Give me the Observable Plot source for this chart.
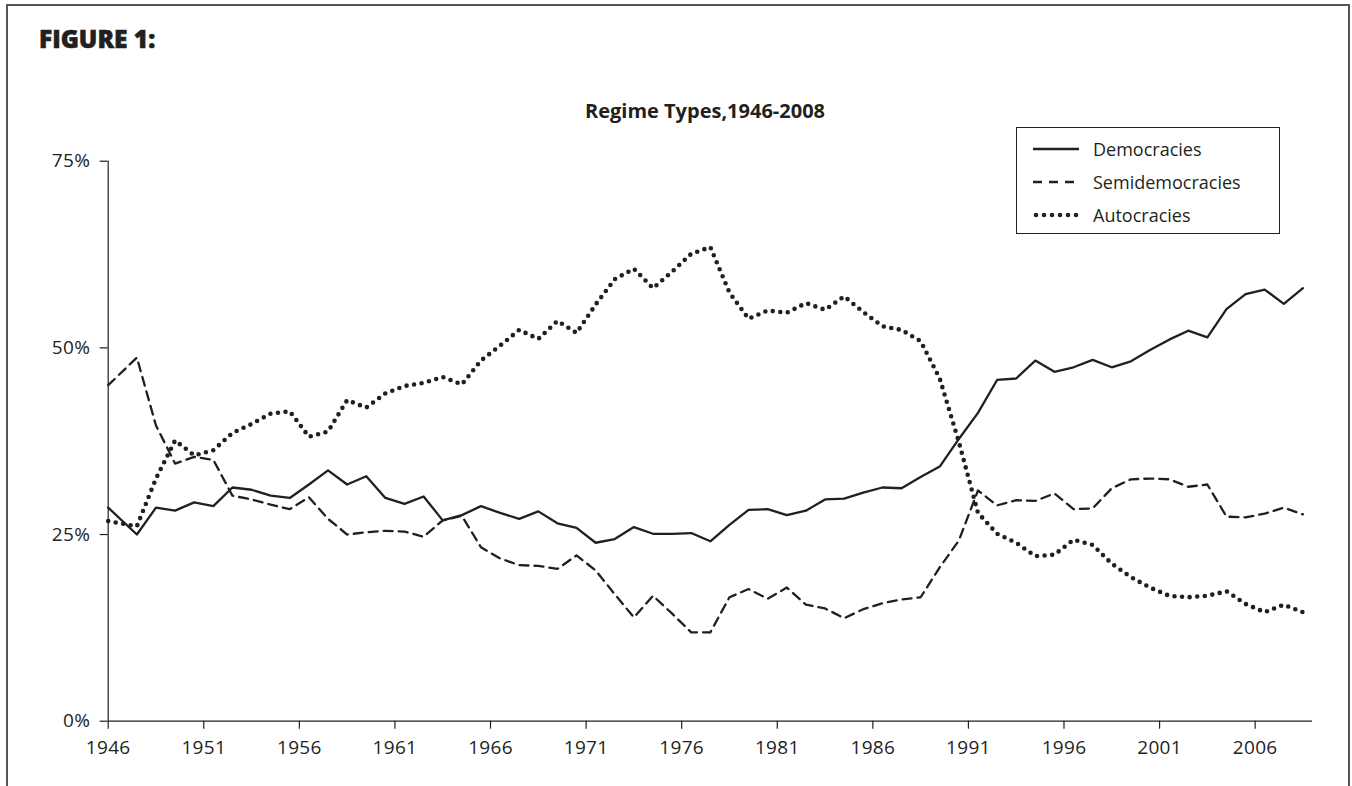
<!DOCTYPE html>
<html><head><meta charset="utf-8">
<script src="https://cdn.jsdelivr.net/npm/d3@7"></script>
<script src="https://cdn.jsdelivr.net/npm/@observablehq/plot@0.6"></script>
<style>
html,body{margin:0;padding:0;background:#fff;}
#page{position:relative;width:1352px;height:786px;overflow:hidden;font-family:"Open Sans",sans-serif;color:#231f20;}
#frame{position:absolute;left:6px;top:4px;width:1344px;height:900px;border:2px solid #555;border-bottom:none;box-sizing:border-box;}
#fig{position:absolute;left:39px;top:22px;font-size:24.5px;font-weight:900;letter-spacing:0px;white-space:nowrap;-webkit-text-stroke:0.6px #231f20;}
#title{position:absolute;left:455px;width:500px;text-align:center;top:97px;font-weight:bold;font-size:20px;}
#chart{position:absolute;left:0;top:0;}
#legend{position:absolute;left:1016px;top:127px;width:264px;height:107px;border:1px solid #231f20;box-sizing:border-box;background:#fff;}
.lrow{position:absolute;left:0;height:26px;width:262px;}
.lrow svg{position:absolute;left:16px;top:1px;}
.lrow span{position:absolute;left:76px;top:0;line-height:26px;font-size:18px;white-space:nowrap;}
#chart svg text{letter-spacing:0.3px;}
</style>
</head>
<body>
<div id="page">
  <div id="frame"></div>
  <div id="fig">FIGURE 1:</div>
  <div id="title">Regime Types,1946-2008</div>
  <div id="chart"></div>
  <div id="legend"></div>
</div>
<script>
// ---- data (percent of countries) ----
const years = [1946,1947,1948,1949,1950,1951,1952,1953,1954,1955,1956,1957,1958,1959,1960,
  1961,1962,1963,1964,1965,1966,1967,1968,1969,1970,1971,1972,1973,1974,1975,1976,1977,1978,
  1979,1980,1981,1982,1983,1984,1985,1986,1987,1988,1989,1990,1991,1992,1993,1994,1995,1996,
  1997,1998,1999,2000,2001,2002,2003,2004,2005,2006,2007,2008];
const democracies = [28.6,25.0,28.6,28.2,29.3,28.8,31.3,31.0,30.2,29.9,31.7,33.6,31.7,32.8,29.9,
  29.1,30.1,26.9,27.6,28.8,27.9,27.1,28.1,26.5,25.9,23.9,24.4,26.0,25.1,25.1,25.2,24.1,26.3,
  28.3,28.4,27.6,28.2,29.7,29.8,30.6,31.3,31.2,32.7,34.1,37.8,41.3,45.7,45.9,48.3,46.8,47.4,
  48.4,47.4,48.2,49.7,51.1,52.3,51.4,55.2,57.2,57.8,55.9,58.0];
const semidemocracies = [45.0,48.7,39.6,34.5,35.4,35.0,30.2,29.7,29.0,28.4,30.0,27.1,25.0,25.3,25.5,
  25.4,24.7,26.9,27.5,23.3,21.8,20.9,20.8,20.4,22.2,20.2,17.0,13.9,16.8,14.4,11.9,11.9,16.6,
  17.7,16.4,17.9,15.6,15.1,13.8,15.0,15.8,16.3,16.6,20.6,24.2,30.9,28.9,29.6,29.5,30.5,28.4,
  28.5,31.2,32.4,32.5,32.4,31.4,31.7,27.4,27.3,27.8,28.6,27.7];
const autocracies = [26.8,26.1,32.5,37.6,35.6,36.3,38.6,39.8,41.2,41.5,38.1,38.8,43.0,42.0,43.9,
  44.9,45.3,46.1,45.1,48.3,50.3,52.4,51.2,53.6,52.0,55.8,59.2,60.6,58.0,60.2,62.6,63.5,57.4,
  53.9,55.0,54.7,56.0,55.1,56.9,54.8,52.9,52.4,50.9,45.9,37.4,27.9,25.1,23.9,22.1,22.3,24.3,
  23.6,21.1,19.3,17.9,16.8,16.6,16.8,17.4,15.7,14.6,15.6,14.6];
const seriesNames = ["Democracies","Semidemocracies","Autocracies"];
const tickYears = [1946,1951,1956,1961,1966,1971,1976,1981,1986,1991,1996,2001,2006];
const yTicks = [0,25,50,75];

const ink = "#231f20";
const styles = {
  Democracies: {strokeWidth: 2.3},
  Semidemocracies: {strokeWidth: 2.3, strokeDasharray: "9,6"},
  Autocracies: {strokeWidth: 4.6, strokeDasharray: "0,7.6", strokeLinecap: "round"}
};

// yearly values sit mid-year; the first one starts on the axis as in the source
const rowsOf = vals => years.map((yr, i) => ({year: yr, pos: i === 0 ? yr : yr + 0.5, value: vals[i]}));
const data = {Democracies: rowsOf(democracies), Semidemocracies: rowsOf(semidemocracies), Autocracies: rowsOf(autocracies)};

const plot = Plot.plot({
  width: 1352, height: 786,
  marginLeft: 107.7, marginRight: 40, marginTop: 160.7, marginBottom: 65.3,
  style: {fontFamily: "'Open Sans', sans-serif", fontSize: "19px", color: ink, background: "transparent", overflow: "visible"},
  x: {domain: [1946, 2009]},
  y: {domain: [0, 75]},
  marks: [
    Plot.axisX({ticks: tickYears, tickFormat: d => String(d), tickSize: 8, tickPadding: 11, stroke: ink, strokeWidth: 1.2, fill: ink, label: null}),
    Plot.axisY({ticks: yTicks, tickFormat: d => d + "%", tickSize: 8, tickPadding: 10, stroke: ink, strokeWidth: 1.2, fill: ink, label: null}),
    Plot.ruleX([1946], {y1: 0, y2: 75, stroke: ink, strokeWidth: 1.2}),
    Plot.ruleY([0], {stroke: ink, strokeWidth: 1.2}),
    ...seriesNames.map(n => Plot.lineY(data[n], {x: "pos", y: "value", stroke: ink, ...styles[n]}))
  ]
});
document.getElementById("chart").appendChild(plot);

// legend
const legend = document.getElementById("legend");
const rowTops = [8, 41, 74];
seriesNames.forEach((n, i) => {
  const row = document.createElement("div");
  row.className = "lrow";
  row.style.top = rowTops[i] + "px";
  const s = styles[n];
  const dash = n === "Semidemocracies" ? "9,7" : (n === "Autocracies" ? "0,8" : "none");
  row.innerHTML = `<svg width="48" height="24"><line x1="${n==="Autocracies"?3:0}" x2="46" y1="12" y2="12" stroke="${ink}" stroke-width="${s.strokeWidth}" stroke-dasharray="${dash}" stroke-linecap="${s.strokeLinecap||"butt"}"/></svg><span>${n}</span>`;
  legend.appendChild(row);
});
</script>
</body></html>
